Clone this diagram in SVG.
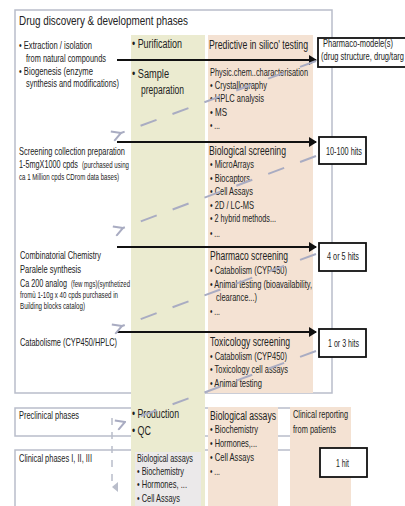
<svg xmlns="http://www.w3.org/2000/svg" width="405" height="506" viewBox="0 0 405 506">
<style>
text{font-family:"Liberation Sans",Arial,sans-serif;fill:#222}
.t{font-size:13.5px}
.h{font-size:12.5px}
.m{font-size:10.5px}
.p{font-size:10px}
.l{font-size:11px}
.s{font-size:8.8px}
.frame{fill:#fff;stroke:#b9bdca;stroke-width:1.5}
.green{fill:#ebebd0}
.salmon{fill:#f4e2d3}
.hit{fill:#fff;stroke:#111;stroke-width:1.8}
.arr{stroke:#111;stroke-width:2;fill:none}
.dash{stroke:#a9acc2;stroke-width:2;fill:none;stroke-dasharray:17 17}
.vdash{stroke:#b9bdca;stroke-width:1.5;fill:none;stroke-dasharray:7 7}
</style>
<defs>
<marker id="ah" markerWidth="8" markerHeight="10" refX="7" refY="5" orient="auto" markerUnits="userSpaceOnUse"><path d="M0,0 L8,5 L0,10 Z" fill="#111"/></marker>
<marker id="oh" markerWidth="12" markerHeight="12" refX="1" refY="6" orient="auto" markerUnits="userSpaceOnUse"><path d="M10,1 L1,6 L10,11" fill="none" stroke="#a9acc2" stroke-width="2"/></marker>
<marker id="vh" markerWidth="10" markerHeight="8" refX="5" refY="6" orient="auto-start-reverse" markerUnits="userSpaceOnUse"><path d="M0,0 L10,0 L5,6 Z" fill="#b9bdca"/></marker>
</defs>

<g id="main-frame">
<rect class="frame" x="15" y="10" width="317" height="383"/>
<text class="t" x="19" y="25" textLength="169" lengthAdjust="spacingAndGlyphs">Drug discovery &amp; development phases</text>
</g>
<g id="preclinical-frame">
<rect class="frame" x="15" y="408" width="325" height="28"/>
</g>
<g id="clinical-frame">
<rect class="frame" x="15" y="450" width="325" height="70"/>
</g>

<g id="col-purification">
<rect class="green" x="131" y="35" width="74" height="471"/>
</g>
<g id="col-testing">
<rect class="salmon" x="208" y="35" width="105" height="358"/>
</g>
<g id="col-bio-assays">
<rect class="salmon" x="208" y="407" width="70" height="99"/>
</g>
<g id="col-clinical">
<rect class="salmon" x="290" y="407" width="61" height="99"/>
</g>

<g id="natural-compounds">
<text class="m" x="19" y="49" textLength="73" lengthAdjust="spacingAndGlyphs">• Extraction / isolation</text>
<text class="m" x="26" y="62" textLength="80" lengthAdjust="spacingAndGlyphs">from natural compounds</text>
<text class="m" x="19" y="75" textLength="74" lengthAdjust="spacingAndGlyphs">• Biogenesis (enzyme</text>
<text class="m" x="26" y="87" textLength="93" lengthAdjust="spacingAndGlyphs">synthesis and modifications)</text>
</g>
<g id="purification">
<text class="h" x="132" y="48" textLength="50" lengthAdjust="spacingAndGlyphs">• Purification</text>
<text class="h" x="132" y="78" textLength="37" lengthAdjust="spacingAndGlyphs">• Sample</text>
<text class="h" x="141" y="94" textLength="43" lengthAdjust="spacingAndGlyphs">preparation</text>
</g>
<g id="in-silico">
<text class="h" x="209" y="49" textLength="99" lengthAdjust="spacingAndGlyphs">Predictive in silico' testing</text>
<text class="m" x="210" y="76" textLength="98" lengthAdjust="spacingAndGlyphs">Physic.chem..characterisation</text>
<text class="m" x="210" y="89" textLength="57" lengthAdjust="spacingAndGlyphs">• Crystallography</text>
<text class="m" x="210" y="102" textLength="54" lengthAdjust="spacingAndGlyphs">• HPLC analysis</text>
<text class="m" x="210" y="116" textLength="17" lengthAdjust="spacingAndGlyphs">• MS</text>
<text class="m" x="210" y="129" textLength="10" lengthAdjust="spacingAndGlyphs">• ...</text>
</g>

<g id="screening-collection">
<text class="l" x="19" y="155" textLength="106" lengthAdjust="spacingAndGlyphs">Screening collection preparation</text>
<text class="l" x="19" y="168" textLength="59" lengthAdjust="spacingAndGlyphs">1-5mgX1000 cpds</text>
<text class="s" x="82" y="168" textLength="47" lengthAdjust="spacingAndGlyphs">(purchased using</text>
<text class="s" x="19" y="180" textLength="100" lengthAdjust="spacingAndGlyphs">ca 1 Million cpds CDrom data bases)</text>
</g>
<g id="bio-screening">
<text class="h" x="209" y="155" textLength="77" lengthAdjust="spacingAndGlyphs">Biological screening</text>
<text class="m" x="210" y="168" textLength="44" lengthAdjust="spacingAndGlyphs">• MicroArrays</text>
<text class="m" x="210" y="182" textLength="40" lengthAdjust="spacingAndGlyphs">• Biocaptors</text>
<text class="m" x="210" y="195" textLength="43" lengthAdjust="spacingAndGlyphs">• Cell Assays</text>
<text class="m" x="210" y="209" textLength="44" lengthAdjust="spacingAndGlyphs">• 2D / LC-MS</text>
<text class="m" x="210" y="222" textLength="66" lengthAdjust="spacingAndGlyphs">• 2 hybrid methods...</text>
<text class="m" x="210" y="237" textLength="10" lengthAdjust="spacingAndGlyphs">• ...</text>
</g>

<g id="combinatorial">
<text class="l" x="20" y="259" textLength="81" lengthAdjust="spacingAndGlyphs">Combinatorial Chemistry</text>
<text class="l" x="20" y="273" textLength="61" lengthAdjust="spacingAndGlyphs">Paralele synthesis</text>
<text class="l" x="20" y="287" textLength="47" lengthAdjust="spacingAndGlyphs">Ca 200 analog</text>
<text class="s" x="71" y="287" textLength="59" lengthAdjust="spacingAndGlyphs">(few mgs)(synthetized</text>
<text class="s" x="20" y="298" textLength="98" lengthAdjust="spacingAndGlyphs">fromù 1-10g x 40 cpds purchased in</text>
<text class="s" x="20" y="309" textLength="65" lengthAdjust="spacingAndGlyphs">Building blocks catalog)</text>
</g>
<g id="pharmaco-screening">
<text class="h" x="210" y="260" textLength="78" lengthAdjust="spacingAndGlyphs">Pharmaco screening</text>
<text class="m" x="210" y="274" textLength="77" lengthAdjust="spacingAndGlyphs">• Catabolism (CYP450)</text>
<text class="m" x="210" y="288" textLength="102" lengthAdjust="spacingAndGlyphs">• Animal testing (bioavailability,</text>
<text class="m" x="216" y="301" textLength="41" lengthAdjust="spacingAndGlyphs">clearance...)</text>
<text class="m" x="210" y="315" textLength="10" lengthAdjust="spacingAndGlyphs">• ...</text>
</g>

<g id="catabolisme">
<text class="l" x="20" y="346" textLength="97" lengthAdjust="spacingAndGlyphs">Catabolisme (CYP450/HPLC)</text>
</g>
<g id="toxicology-screening">
<text class="h" x="210" y="346" textLength="80" lengthAdjust="spacingAndGlyphs">Toxicology screening</text>
<text class="m" x="210" y="360" textLength="77" lengthAdjust="spacingAndGlyphs">• Catabolism (CYP450)</text>
<text class="m" x="210" y="373" textLength="78" lengthAdjust="spacingAndGlyphs">• Toxicology cell assays</text>
<text class="m" x="210" y="387" textLength="52" lengthAdjust="spacingAndGlyphs">• Animal testing</text>
</g>

<g id="preclinical">
<text class="m" x="19" y="419" textLength="60" lengthAdjust="spacingAndGlyphs">Preclinical phases</text>
</g>
<g id="production">
<text class="h" x="132" y="418" textLength="47" lengthAdjust="spacingAndGlyphs">• Production</text>
<text class="h" x="132" y="435" textLength="19" lengthAdjust="spacingAndGlyphs">• QC</text>
</g>
<g id="clinical">
<text class="m" x="19" y="462" textLength="73" lengthAdjust="spacingAndGlyphs">Clinical phases I, II, III</text>
</g>
<g id="clinical-bio-assays">
<rect x="135" y="452" width="66" height="54" fill="#ebe9ea"/>
<text class="m" x="137" y="462" textLength="56" lengthAdjust="spacingAndGlyphs">Biological assays</text>
<text class="m" x="137" y="475" textLength="47" lengthAdjust="spacingAndGlyphs">• Biochemistry</text>
<text class="m" x="137" y="488" textLength="50" lengthAdjust="spacingAndGlyphs">• Hormones, ...</text>
<text class="m" x="137" y="502" textLength="43" lengthAdjust="spacingAndGlyphs">• Cell Assays</text>
</g>
<g id="bio-assays">
<text class="h" x="210" y="420" textLength="66" lengthAdjust="spacingAndGlyphs">Biological assays</text>
<text class="m" x="210" y="433" textLength="48" lengthAdjust="spacingAndGlyphs">• Biochemistry</text>
<text class="m" x="210" y="447" textLength="47" lengthAdjust="spacingAndGlyphs">• Hormones,...</text>
<text class="m" x="210" y="461" textLength="44" lengthAdjust="spacingAndGlyphs">• Cell Assays</text>
<text class="m" x="210" y="475" textLength="10" lengthAdjust="spacingAndGlyphs">• ...</text>
</g>
<g id="clinical-reporting">
<text class="m" x="293" y="418" textLength="55" lengthAdjust="spacingAndGlyphs">Clinical reporting</text>
<text class="m" x="293" y="433" textLength="43" lengthAdjust="spacingAndGlyphs">from patients</text>
</g>

<g id="connectors">
<line class="arr" x1="117" y1="60" x2="316" y2="60" marker-end="url(#ah)"/>
<line class="arr" x1="117" y1="142" x2="316" y2="142" marker-end="url(#ah)"/>
<line class="arr" x1="117" y1="247" x2="316" y2="247" marker-end="url(#ah)"/>
<line class="arr" x1="117" y1="332" x2="316" y2="332" marker-end="url(#ah)"/>
<line class="dash" x1="316" y1="61" x2="121" y2="133" marker-end="url(#oh)"/>
<line class="dash" x1="316" y1="156" x2="123" y2="228" marker-end="url(#oh)"/>
<line class="dash" x1="316" y1="254" x2="122" y2="326" marker-end="url(#oh)"/>
<line class="dash" x1="316" y1="351" x2="125" y2="422" marker-end="url(#oh)"/>
<line class="vdash" x1="112" y1="418" x2="112" y2="487" marker-end="url(#vh)"/>
</g>

<g id="hit-pharmaco">
<rect class="hit" x="318" y="38" width="100" height="29"/>
<text class="p" x="323" y="47" textLength="70" lengthAdjust="spacingAndGlyphs">Pharmaco-modele(s)</text>
<text class="p" x="321" y="60" textLength="83" lengthAdjust="spacingAndGlyphs">(drug structure, drug/targ</text>
</g>
<g id="hit-10-100">
<rect class="hit" x="319" y="137" width="47" height="27"/>
<text class="m" x="326" y="155" textLength="36" lengthAdjust="spacingAndGlyphs">10-100 hits</text>
</g>
<g id="hit-4-5">
<rect class="hit" x="319" y="243" width="47" height="28"/>
<text class="m" x="327" y="260" textLength="32" lengthAdjust="spacingAndGlyphs">4 or 5 hits</text>
</g>
<g id="hit-1-3">
<rect class="hit" x="319" y="329" width="47" height="28"/>
<text class="m" x="328" y="347" textLength="31" lengthAdjust="spacingAndGlyphs">1 or 3 hits</text>
</g>
<g id="hit-1">
<rect class="hit" x="320" y="448" width="47" height="29"/>
<text class="m" x="336" y="467" textLength="13" lengthAdjust="spacingAndGlyphs">1 hit</text>
</g>
</svg>
